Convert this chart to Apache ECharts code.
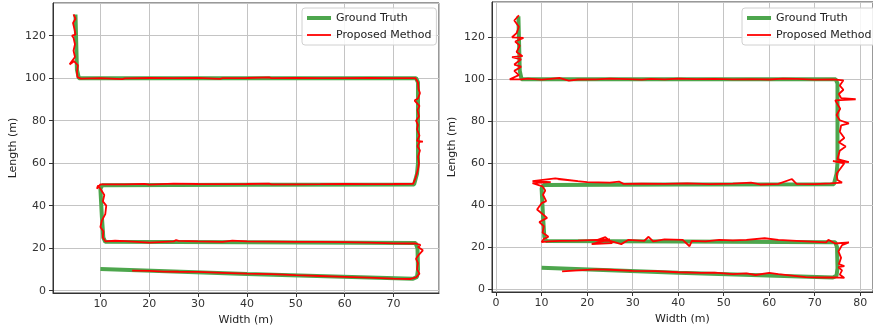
<!DOCTYPE html>
<html>
<head>
<meta charset="utf-8">
<script src="https://cdn.jsdelivr.net/npm/echarts@6/dist/echarts.min.js"></script>
<style>
  html, body { margin: 0; padding: 0; background: #fff; }
  #chart { width: 873px; height: 331px; }
</style>
</head>
<body>
<div id="chart"></div>
<script>
// ground truth path (same for both panels)
var groundTruth = [
    [10, 10.2], [40, 7.9], [74, 5.6], [74.8, 6.5], [75, 10], [74.9, 20], [74.5, 22.4],
    [40, 22.8], [11, 23], [10.6, 25], [10.3, 35], [10, 48], [10.4, 49.6], [40, 49.9],
    [74.2, 50], [74.8, 55], [75, 60], [75, 98], [74.6, 100], [40, 100], [5.6, 100],
    [5.2, 104], [4.9, 130]
];

// proposed method, left panel
var proposedA = [
    [16.5, 9.4], [20, 9.3], [23, 9.0], [26, 8.9], [30, 8.8], [35, 8.4], [40, 8.0],
    [45, 7.8], [50, 7.3], [55, 6.9], [60, 6.5], [65, 6.1], [70, 5.7], [73.5, 5.5],
    [74.6, 6.2], [75.3, 8], [74.8, 10], [75, 13], [74.6, 15], [75.2, 17], [76, 19],
    [75, 20.5], [75.5, 21.5], [74.5, 22.2], [70, 22.3], [65, 22.6], [60, 22.8], [55, 23],
    [50, 23], [45, 23.1], [40, 23.2], [37, 23.6], [35, 23.0], [30, 23.2], [26, 23.4],
    [25.5, 23.8], [25, 23.2], [20, 22.6], [15, 23.3], [13, 23.5], [11, 23.2], [10.5, 25],
    [10.6, 28], [10, 30], [10.3, 33], [11, 36], [11.2, 40], [10.5, 42], [10.8, 45],
    [10, 48], [9.5, 49.5], [9.3, 48], [10, 50], [15, 50], [19, 50.3], [20, 49.9], [25, 50.4],
    [30, 50.2], [35, 50.1], [40, 50.2], [44.5, 50.4], [45, 50.0], [50, 50], [55, 50.1], [60, 50.3],
    [65, 50.1], [70, 50.2], [74, 50.3], [74.5, 53], [75, 57], [75.2, 60], [75, 63],
    [75.4, 66], [74.9, 68], [75.3, 70], [76, 70.2], [74.8, 70.5], [75.3, 73], [74.8, 76],
    [75, 78], [74.6, 80], [75.2, 82], [74.9, 85], [75.3, 87], [74.3, 89.5], [75, 90.5],
    [75.4, 93], [75.1, 95], [75, 98], [74.5, 100], [70, 100], [65, 100.2], [60, 100],
    [55, 100], [50, 100.2], [45, 100], [44.5, 100.4], [40, 100.1], [35, 100], [34.5, 99.7],
    [30, 100.2], [25, 100], [20, 100.1], [15, 99.9], [14.5, 99.6], [10, 100], [6, 99.8],
    [5.3, 100.5], [5.2, 103], [5.4, 106], [4.6, 108], [3.7, 106.5], [4.8, 110], [4.5, 113],
    [4.8, 116], [4.5, 119], [4.2, 120], [4.9, 120.5], [4.7, 123], [4.4, 126], [4.9, 128],
    [4.5, 130]
];

// proposed method, right panel
var proposedB = [
    [14.5, 8.5], [18, 9], [22, 9.5], [25, 9.3], [30, 8.8], [35, 8.6], [40, 8.1],
    [45, 7.8], [48, 7.9], [52, 7.2], [55, 7.6], [57, 6.8], [60, 7.8], [62, 7.2],
    [65, 6.5], [68, 5.8], [72, 5.6], [74.5, 5.7], [76.5, 5.4], [75.5, 7], [76, 9],
    [75.2, 10.5], [76.5, 11], [75.3, 12], [75.8, 15], [75.2, 18], [76, 21], [77.5, 22.3],
    [74.5, 21.8], [73, 23.5], [72.5, 22.3], [68, 22.8], [62, 23.5], [59, 24.3], [55, 23.5],
    [52, 23.3], [49, 23.5], [46, 22.8], [43, 23], [42.5, 20.5], [41, 23.5], [37, 23.8],
    [34.5, 22.8], [33.5, 25], [32.5, 23], [29, 23.5], [27.5, 21.5], [25, 23], [22, 23.3],
    [24, 24.8], [25.5, 22], [21, 21.5], [25, 23.8], [18, 23.2], [14, 23], [11.5, 22.8],
    [10, 22.5], [10.5, 24], [11.5, 25], [10.2, 27], [10.5, 30], [9.5, 32], [11.2, 34],
    [9, 38], [10, 41], [11, 42], [10.3, 45], [10.8, 47], [10.2, 49], [8, 50.5], [12, 51],
    [8, 51.5], [13, 52.8], [18, 51.5], [13.5, 52.5], [20, 51], [25, 50.8], [27, 51.3],
    [28, 50.2], [32, 50.3], [37, 50.2], [42, 50.4], [47, 50.1], [52, 50.3], [56, 50.8],
    [58, 49.9], [62, 50.2], [65, 52.5], [66, 50.2], [70, 50.1], [73.5, 50.4], [76, 50.8],
    [75, 52], [74.8, 55], [76.5, 60], [74, 61], [77.5, 60.5], [75, 62], [75.5, 66],
    [76.8, 68], [75.3, 70], [76.5, 72], [75.5, 75], [75.8, 78], [77.5, 79], [75.5, 80.5],
    [74.8, 83], [75.6, 86], [74.5, 90], [79, 90.5], [75.8, 91], [75.3, 93], [76.3, 95],
    [75.5, 97], [76.3, 99.5], [74, 100], [70, 99.8], [66, 100.2], [63, 100.3], [60, 99.9],
    [56, 100.1], [52, 100], [48, 100.2], [44, 100.1], [40, 100.3], [37, 100], [34, 100.2],
    [32, 99.8], [29, 100.1], [25, 100.3], [22, 100], [18, 99.9], [16, 99.4], [14, 100.6],
    [12, 100.2], [10, 99.8], [7, 100.3], [5.5, 100], [3, 100], [5, 102], [4, 104],
    [5.5, 106], [4, 107], [5.5, 109.5], [3.5, 110.5], [5.8, 111], [4.5, 113], [5.2, 116],
    [4.2, 118], [6, 119.7], [3.5, 120], [4.5, 122], [5, 125], [4, 128], [5, 130.5]
];

var seriesNames = ['Ground Truth', 'Proposed Method'];
var xRanges = [[0.3, 79.3], [-0.9, 82.8]];
var yRanges = [[-1.1, 135.4], [-1.3, 136.8]];

var font = 'DejaVu Sans';
var green = '#4da64d';

function xAxisFor(i) {
    return {
        type: 'value', gridIndex: i, min: xRanges[i][0], max: xRanges[i][1],
        splitNumber: 8,
        name: 'Width (m)', nameLocation: 'middle', nameGap: 21,
        nameTextStyle: { fontFamily: font, fontSize: 11, color: '#222' },
        axisLine: { show: true, onZero: false, lineStyle: { color: '#333' } },
        axisTick: { show: true, length: 4, lineStyle: { color: '#333' } },
        axisLabel: { margin: 6, fontFamily: font, fontSize: 11, color: '#333',
            showMinLabel: false, showMaxLabel: false },
        splitLine: { show: true, lineStyle: { color: '#c4c4c4', width: 1 } }
    };
}

function yAxisFor(i) {
    return {
        type: 'value', gridIndex: i, min: yRanges[i][0], max: yRanges[i][1],
        splitNumber: 7,
        name: 'Length (m)', nameLocation: 'middle', nameGap: 34, nameRotate: 90,
        nameTextStyle: { fontFamily: font, fontSize: 11, color: '#222' },
        axisLine: { show: true, onZero: false, lineStyle: { color: '#333' } },
        axisTick: { show: true, length: 4, lineStyle: { color: '#333' } },
        axisLabel: { margin: 7, fontFamily: font, fontSize: 11, color: '#333',
            showMinLabel: false, showMaxLabel: false },
        splitLine: { show: true, lineStyle: { color: '#c4c4c4', width: 1 } }
    };
}

function legendFor(i, left) {
    return {
        left: left, top: 8, orient: 'vertical', align: 'left',
        data: [
            { name: seriesNames[0], lineStyle: { width: 4 } },
            { name: seriesNames[1], lineStyle: { width: 1.8 } }
        ],
        padding: [3, 5, 3, 3], itemGap: 3, itemWidth: 24, itemHeight: 14, itemTextGap: 8,
        // hide the circle marker, keep only the line
        itemStyle: { opacity: 0, borderWidth: 0 },
        backgroundColor: 'rgba(255,255,255,0.85)', borderColor: '#d0d0d0', borderWidth: 1,
        borderRadius: 3,
        textStyle: { fontFamily: font, fontSize: 11, color: '#222', lineHeight: 14 }
    };
}

function lineSeries(name, data, i, color, width) {
    return {
        name: name, type: 'line', data: data, xAxisIndex: i, yAxisIndex: i,
        symbol: 'none', showSymbol: false, smooth: false,
        lineStyle: { color: color, width: width }, itemStyle: { color: color },
        legendHoverLink: false
    };
}

var chart = echarts.init(document.getElementById('chart'));
chart.setOption({
    animation: false,
    backgroundColor: '#fff',
    grid: [
        { left: 53, top: 3, width: 386, height: 290, show: true, borderColor: '#333', borderWidth: 1 },
        { left: 492, top: 2, width: 388, height: 290, show: true, borderColor: '#333', borderWidth: 1 }
    ],
    legend: [legendFor(0, 302), legendFor(1, 742)],
    xAxis: [xAxisFor(0), xAxisFor(1)],
    yAxis: [yAxisFor(0), yAxisFor(1)],
    series: [
        lineSeries('Ground Truth', groundTruth, 0, green, 4),
        lineSeries('Proposed Method', proposedA, 0, '#ff0000', 1.8),
        lineSeries('Ground Truth', groundTruth, 1, green, 4),
        lineSeries('Proposed Method', proposedB, 1, '#ff0000', 1.8)
    ]
});
</script>
</body>
</html>
